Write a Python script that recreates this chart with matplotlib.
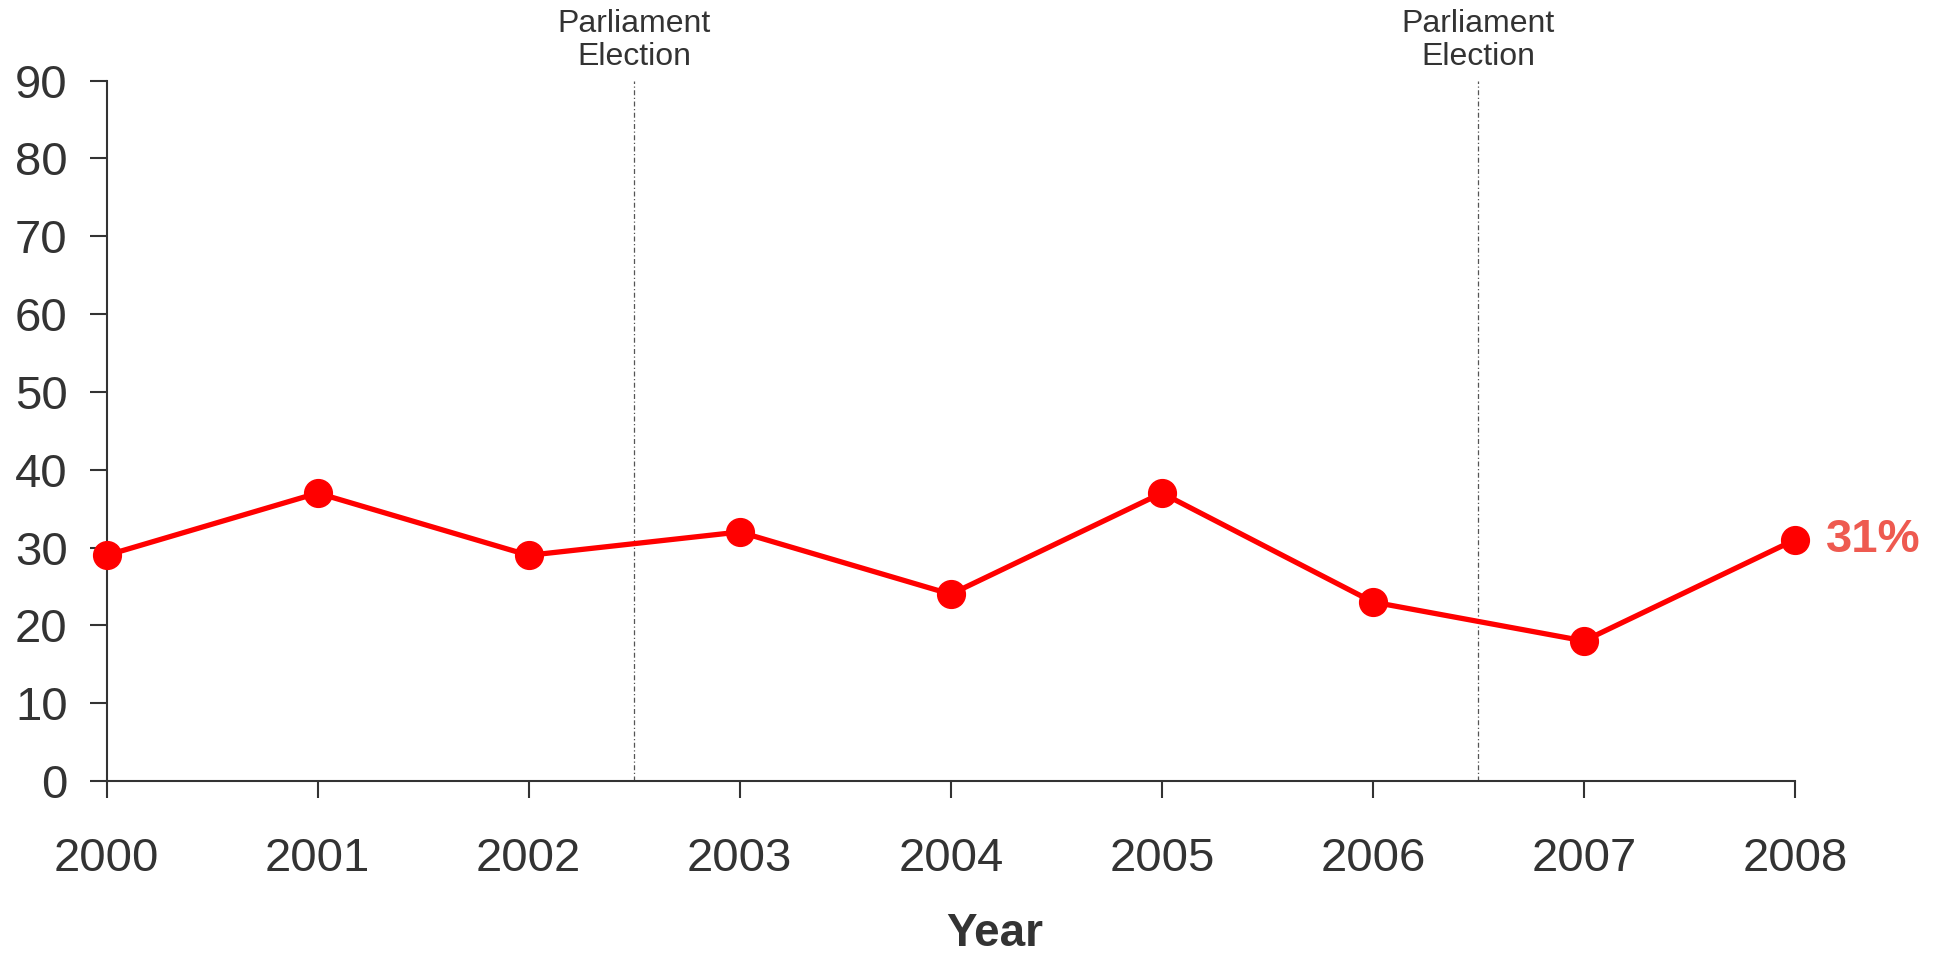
import matplotlib
matplotlib.use("Agg")
import matplotlib.pyplot as plt

plt.rcParams['font.family'] = ['Liberation Sans', 'DejaVu Sans']

years = [2000, 2001, 2002, 2003, 2004, 2005, 2006, 2007, 2008]
values = [29, 37, 29, 32, 24, 37, 23, 18, 31]
elections = [2002.5, 2006.5]
election_label = "Parliament\nElection"
yticks = [0, 10, 20, 30, 40, 50, 60, 70, 80, 90]

text_col = '#333333'

fig = plt.figure(figsize=(19.44, 9.57), dpi=100)
ax = fig.add_axes([106.6 / 1944, 1 - 781 / 957, (1795 - 106.6) / 1944, (781 - 80.6) / 957])

for x in elections:
    ax.axvline(x, color='#555555', lw=0.9, ls=(0, (4, 2, 1, 2)), zorder=1)
    ax.annotate(election_label, xy=(x, 1), xycoords=('data', 'axes fraction'),
                xytext=(0, 6), textcoords='offset points', ha='center', va='bottom',
                fontsize=23, color=text_col, linespacing=1.15, annotation_clip=False)

ax.plot(years, values, color='#ff0000', lw=3.8, marker='o', ms=20, clip_on=False, zorder=3)

ax.annotate(f"{values[-1]}%", xy=(years[-1], values[-1]), xytext=(22, 0),
            textcoords='offset points', ha='left', va='center',
            fontsize=34, fontweight='bold', color='#ee5a50', annotation_clip=False)

ax.set_xlim(years[0], years[-1])
ax.set_ylim(0, 90)
ax.set_xticks(years)
ax.set_yticks(yticks)

for s in ['top', 'right']:
    ax.spines[s].set_visible(False)
for s in ['left', 'bottom']:
    ax.spines[s].set_color(text_col)
    ax.spines[s].set_linewidth(1.5)

ax.tick_params(axis='x', direction='out', length=12, width=1.5, pad=28,
               labelsize=34, colors=text_col)
ax.tick_params(axis='y', direction='out', length=12, width=1.5, pad=16,
               labelsize=34, colors=text_col)

fig.text(995 / 1944, 1 - 934 / 957, "Year", ha='center', va='center',
         fontsize=33, fontweight='bold', color=text_col)

fig.savefig("out.png", dpi=100)
